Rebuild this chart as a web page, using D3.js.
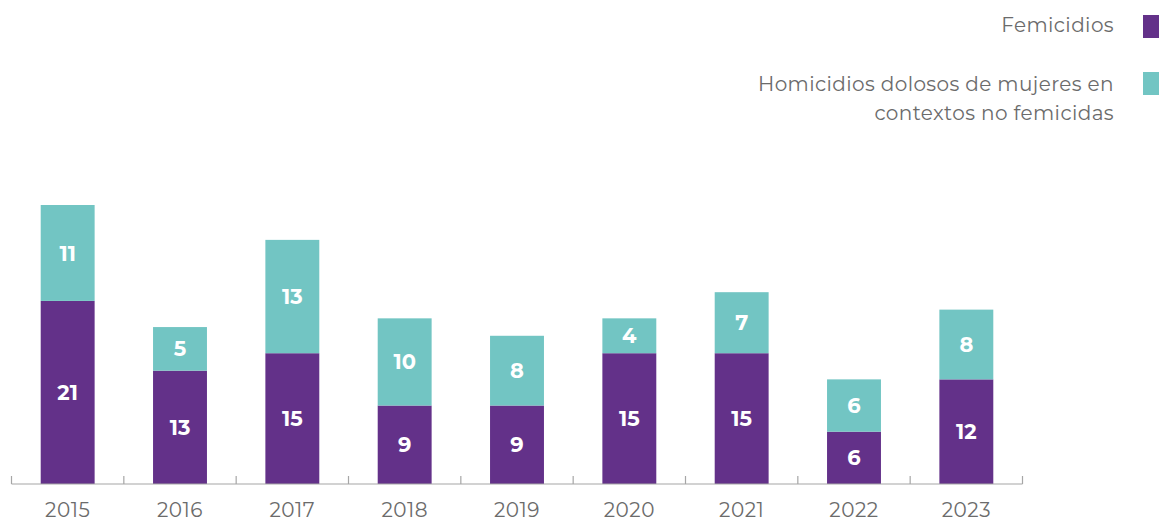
<!DOCTYPE html>
<html>
<head>
<meta charset="utf-8">
<script src="https://cdn.jsdelivr.net/npm/d3@7"></script>
<style>
  body { margin: 0; background: #fff; }
  text { font-family: "Montserrat", "Lato", "Open Sans", sans-serif; }
</style>
</head>
<body>
<div id="chart"></div>
<script>
// data
var years = ["2015", "2016", "2017", "2018", "2019", "2020", "2021", "2022", "2023"];
var femicidios = [21, 13, 15, 9, 9, 15, 15, 6, 12];
var homicidios = [11, 5, 13, 10, 8, 4, 7, 6, 8];
var seriesNames = ["Femicidios", "Homicidios dolosos de mujeres en contextos no femicidas"];

var svgWidth = 1159;
var svgHeight = 522;
var colors = ["#633189", "#72C5C3"];

var svg = d3.select("#chart")
  .append("svg")
  .attr("width", svgWidth)
  .attr("height", svgHeight);

// build stack input
var table = years.map(function(y, i) {
  return { year: y, fem: femicidios[i], hom: homicidios[i] };
});
var stacked = d3.stack().keys(["fem", "hom"])(table);

var xScale = d3.scaleBand()
  .domain(years)
  .range([11.5, 1022.5])
  .paddingInner(0.52)
  .paddingOuter(0.26);

var yScale = d3.scaleLinear()
  .domain([0, 32])
  .range([484, 205]);

// bars
var layers = svg.selectAll("g.layer")
  .data(stacked)
  .enter().append("g")
    .attr("class", "layer")
    .attr("fill", function(d, i) { return colors[i]; });

layers.selectAll("rect")
  .data(function(d) { return d; })
  .enter().append("rect")
    .attr("x", function(d) { return xScale(d.data.year); })
    .attr("y", function(d) { return yScale(d[1]); })
    .attr("width", xScale.bandwidth())
    .attr("height", function(d) { return yScale(d[0]) - yScale(d[1]); });

// value labels
layers.selectAll("text")
  .data(function(d) { return d; })
  .enter().append("text")
    .attr("x", function(d) { return xScale(d.data.year) + xScale.bandwidth() / 2; })
    .attr("y", function(d) { return (yScale(d[0]) + yScale(d[1])) / 2; })
    .attr("dy", "0.36em")
    .attr("text-anchor", "middle")
    .attr("fill", "#fff")
    .attr("font-weight", "bold")
    .attr("font-size", "21px")
    .text(function(d) { return d[1] - d[0]; });

// axis line with ticks at band edges
var tickPos = d3.range(years.length + 1).map(function(i) { return 11.5 + i * (1011 / years.length); });
svg.append("line")
  .attr("x1", 11.5).attr("x2", 1022.5)
  .attr("y1", 484).attr("y2", 484)
  .attr("stroke", "#a6a6a6").attr("stroke-width", 1.2);
svg.selectAll("line.tick")
  .data(tickPos)
  .enter().append("line")
    .attr("class", "tick")
    .attr("x1", function(d) { return d; }).attr("x2", function(d) { return d; })
    .attr("y1", 476).attr("y2", 484)
    .attr("stroke", "#a6a6a6").attr("stroke-width", 1.2);

// year labels
svg.selectAll("text.year")
  .data(years)
  .enter().append("text")
    .attr("class", "year")
    .attr("x", function(d) { return xScale(d) + xScale.bandwidth() / 2; })
    .attr("y", 517)
    .attr("text-anchor", "middle")
    .attr("fill", "#6b6b6b")
    .attr("font-size", "20px")
    .attr("letter-spacing", "0.5px")
    .text(function(d) { return d; });

// legend
var legend = svg.append("g");
legend.append("rect").attr("x", 1143).attr("y", 15).attr("width", 23).attr("height", 23).attr("fill", colors[0]);
legend.append("rect").attr("x", 1143).attr("y", 72).attr("width", 23).attr("height", 23).attr("fill", colors[1]);
var legendText = [
  { t: seriesNames[0], y: 32 },
  { t: "Homicidios dolosos de mujeres en", y: 91 },
  { t: "contextos no femicidas", y: 120 }
];
legend.selectAll("text")
  .data(legendText)
  .enter().append("text")
    .attr("x", 1114)
    .attr("y", function(d) { return d.y; })
    .attr("text-anchor", "end")
    .attr("fill", "#6b6b6b")
    .attr("font-size", "20px")
    .attr("letter-spacing", "0.4px")
    .text(function(d) { return d.t; });
</script>
</body>
</html>
